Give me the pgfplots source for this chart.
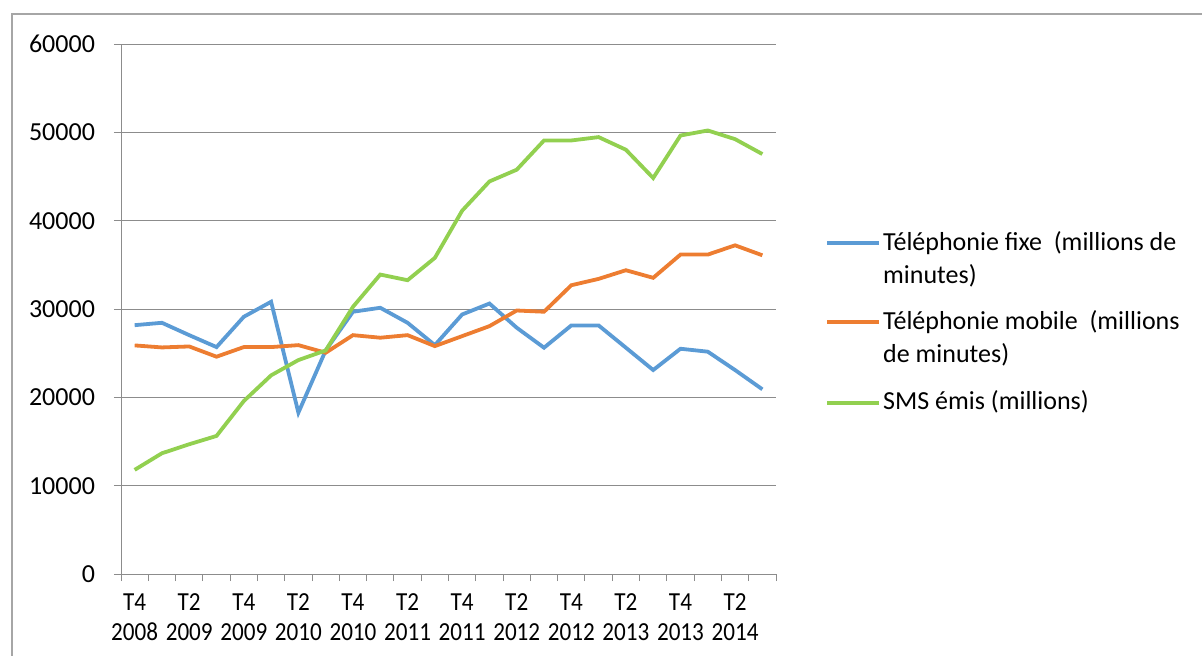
\documentclass[border=0pt]{standalone}
\usepackage{fontspec}
\setmainfont{Carlito}
\newfontfamily\narrowfont[FakeStretch=0.89]{Carlito}
\usepackage{pgfplots}
\pgfplotsset{compat=1.18}
\definecolor{cfixe}{HTML}{5B9BD5}
\definecolor{cmobile}{HTML}{ED7D31}
\definecolor{csms}{HTML}{92D050}
\definecolor{cgrid}{HTML}{8C8C8C}
\definecolor{cframe}{HTML}{A6A6A6}
\newcommand{\chartfont}{\fontsize{13}{16.5}\selectfont}
% two-line legend entries: the line sits level with the first line of text
\pgfplotsset{twoline legend/.style={legend image code/.code={%
    \draw[##1] (0pt,20.4pt) -- (26pt,20.4pt);}}}

% T4 2008 ... T3 2014, one row per quarter
\pgfplotstableread{
x     fixe   mobile  sms
0.5   28170  25880   11790
1.5   28440  25650   13670
2.5   27040  25760   14690
3.5   25690  24600   15630
4.5   29120  25690   19580
5.5   30820  25690   22490
6.5   18270  25910   24220
7.5   25310  25050   25310
8.5   29690  27040   30250
9.5   30140  26750   33900
10.5  28440  27040   33260
11.5  25910  25800   35790
12.5  29380  26930   41130
13.5  30620  28060   44440
14.5  27880  29830   45770
15.5  25620  29690   49080
16.5  28140  32690   49080
17.5  28140  33410   49460
18.5  25620  34390   48030
19.5  23090  33530   44830
20.5  25500  36160   49640
21.5  25170  36160   50210
22.5  23090  37210   49230
23.5  20910  36080   47540
}\datatable

\begin{document}
\begin{tikzpicture}
\path[use as bounding box] (0,0) rectangle (601pt,327.5pt);
\draw[cframe, line width=0.6pt] (6pt,-2pt) -- (6pt,320.5pt) -- (603pt,320.5pt);
\begin{axis}[
    at={(60.5pt,40.5pt)}, anchor=south west,
    scale only axis, width=327.5pt, height=265pt,
    xmin=0, xmax=24, ymin=0, ymax=60000,
    axis x line*=bottom, axis y line*=left,
    axis line style={cgrid, line width=0.5pt, -},
    tick align=outside, major tick length=3.5pt,
    tick style={cgrid, line width=0.5pt},
    xtick={0,...,24}, xticklabels={},
    extra x ticks={0.5,2.5,...,22.5},
    extra x tick labels={{T4\\2008},{T2\\2009},{T4\\2009},{T2\\2010},{T4\\2010},{T2\\2011},{T4\\2011},{T2\\2012},{T4\\2012},{T2\\2013},{T4\\2013},{T2\\2014}},
    extra x tick style={major tick length=0pt, grid=none,
        tick label style={align=center, yshift=-6.5pt,
            font=\narrowfont\fontsize{13}{14.75}\selectfont}},
    ytick={0,10000,...,60000},
    ymajorgrids, grid style={cgrid, line width=0.5pt},
    scaled y ticks=false,
    yticklabel style={font=\chartfont, xshift=-6pt,
        /pgf/number format/set thousands separator={}},
    /pgf/number format/assume math mode=true,
    legend style={at={(1.0748,0.4755)}, anchor=west, draw=none, fill=none,
        inner sep=0pt, row sep=10pt, font=\chartfont,
        nodes={inner sep=1pt}, cells={align=left, anchor=base west}},
    legend image code/.code={%
        \path[draw=none] (0pt,0pt) -- (0pt,0.7em);
        \draw[#1] (0pt,0.3em) -- (26pt,0.3em);},
]
\addplot[cfixe, line width=1.9pt, twoline legend] table[x=x, y=fixe] {\datatable};
\addlegendentry{Téléphonie fixe\ \ (millions de\\minutes)}
\addplot[cmobile, line width=1.9pt, twoline legend] table[x=x, y=mobile] {\datatable};
\addlegendentry{Téléphonie mobile\ \ (millions\\de minutes)}
\addplot[csms, line width=1.9pt] table[x=x, y=sms] {\datatable};
\addlegendentry{SMS émis (millions)}
\end{axis}
\end{tikzpicture}
\end{document}
